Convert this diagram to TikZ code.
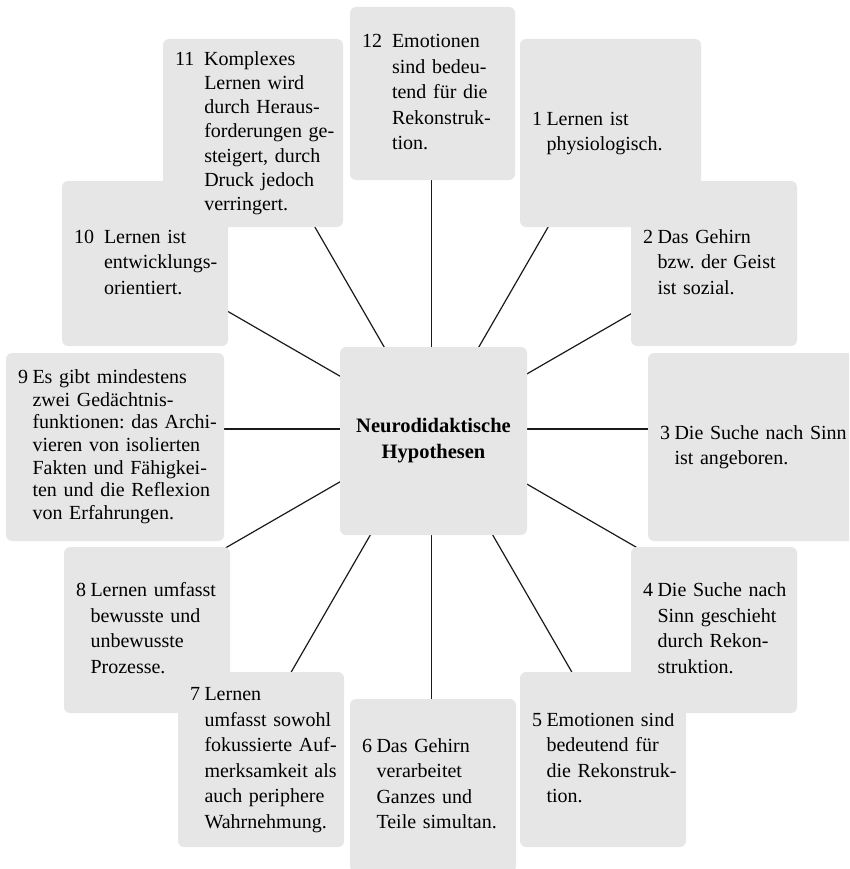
\documentclass[tikz,border=0pt]{standalone}
\usepackage{fontspec}
\setmainfont{Liberation Serif}
\usetikzlibrary{calc,backgrounds}
\definecolor{boxgray}{HTML}{E7E6E6}
\definecolor{linecol}{HTML}{1A1A1A}
\frenchspacing
\newcommand{\hypA}[1]{\begin{tabular}{@{}l@{\hspace{4.5pt}}l@{}}#1\end{tabular}}
\newcommand{\hypB}[1]{\begin{tabular}{@{}l@{\hspace{10pt}}l@{}}#1\end{tabular}}
\begin{document}
\begin{tikzpicture}[x=1pt,y=1pt,
  hbox/.style={fill=boxgray, rounded corners=6pt, inner xsep=12pt, inner ysep=0pt,
    align=left, font=\fontsize{20}{25.5}\selectfont, text=black},
  hub/.style={fill=boxgray, rounded corners=6pt, inner sep=0pt, align=center,
    font=\fontsize{20.5}{26}\selectfont\bfseries, minimum width=187pt, minimum height=188pt},
  ray/.style={draw=linecol, line width=1.2pt}]
\useasboundingbox (0,0) rectangle (849,-869);
\clip (0,0) rectangle (849,-869);

\node[hub] (c) at (433.5,-441) {Neurodidaktische\\Hypothesen};
\coordinate (o) at (431.5,-429);

\node[hbox, minimum width=165pt, minimum height=173pt, text width=141pt] (b12) at (432.5,-93.5)
  {\hypB{12 & Emotionen\\ & sind bedeu-\\ & tend für die\\ & Rekonstruk-\\ & tion.}};
\node[hbox, minimum width=166pt, minimum height=165pt, text width=142pt] (b2) at (714,-263.5)
  {\hypA{2 & Das Gehirn\\ & bzw. der Geist\\ & ist sozial.}};
\node[hbox, minimum width=181pt, minimum height=188pt, text width=157pt] (b1) at (610.5,-133)
  {\hypA{1 & Lernen ist\\ & physiologisch.}};
\node[hbox, minimum width=212pt, minimum height=188pt, text width=188pt] (b3) at (754,-447)
  {\hypA{3 & Die Suche nach Sinn\\ & ist angeboren.}};
\node[hbox, minimum width=166pt, minimum height=175pt, text width=142pt] (b5) at (603,-759.5)
  {\hypA{5 & Emotionen sind\\ & bedeutend für\\ & die Rekonstruk-\\ & tion.}};
\node[hbox, minimum width=166pt, minimum height=166pt, text width=142pt] (b4) at (714,-630)
  {\hypA{4 & Die Suche nach\\ & Sinn geschieht\\ & durch Rekon-\\ & struktion.}};
\node[hbox, minimum width=166pt, minimum height=173pt, text width=142pt] (b6) at (433,-785.5)
  {\hypA{6 & Das Gehirn\\ & verarbeitet\\ & Ganzes und\\ & Teile simultan.}};
\node[hbox, minimum width=166pt, minimum height=166pt, text width=142pt] (b8) at (147,-630)
  {\hypA{8 & Lernen umfasst\\ & bewusste und\\ & unbewusste\\ & Prozesse.}};
\node[hbox, minimum width=166pt, minimum height=175pt, text width=142pt] (b7) at (261,-759.5)
  {\hypA{7 & Lernen\\ & umfasst sowohl\\ & fokussierte Auf-\\ & merksamkeit als\\ & auch periphere\\ & Wahrnehmung.}};
\node[hbox, font=\fontsize{20}{22.7}\selectfont, minimum width=218pt, minimum height=188pt, text width=194pt] (b9) at (115,-447)
  {\hypA{9 & Es gibt mindestens\\ & zwei Gedächtnis-\\ & funktionen: das Archi-\\ & vieren von isolierten\\ & Fakten und Fähigkei-\\ & ten und die Reflexion\\ & von Erfahrungen.}};
\node[hbox, minimum width=166pt, minimum height=165pt, text width=142pt] (b10) at (145,-263.5)
  {\hypB{10 & Lernen ist\\ & entwicklungs-\\ & orientiert.}};
\node[hbox, font=\fontsize{20}{24.2}\selectfont, minimum width=180pt, minimum height=188pt, text width=156pt] (b11) at (253,-133)
  {\hypB{11 & Komplexes\\ & Lernen wird\\ & durch Heraus-\\ & forderungen ge-\\ & steigert, durch\\ & Druck jedoch\\ & verringert.}};

\foreach \k/\a in {12/90,1/60,2/30,3/0,4/-30,5/-60,6/-90,7/-120,8/-150,9/180,10/150,11/120}{
  \coordinate (e\k) at ($(o)+(\a:300)$);
}
\begin{scope}[on background layer]
\foreach \k in {1,...,12}{
  \draw[ray] (o) -- (e\k);
}
\end{scope}
\end{tikzpicture}
\end{document}
